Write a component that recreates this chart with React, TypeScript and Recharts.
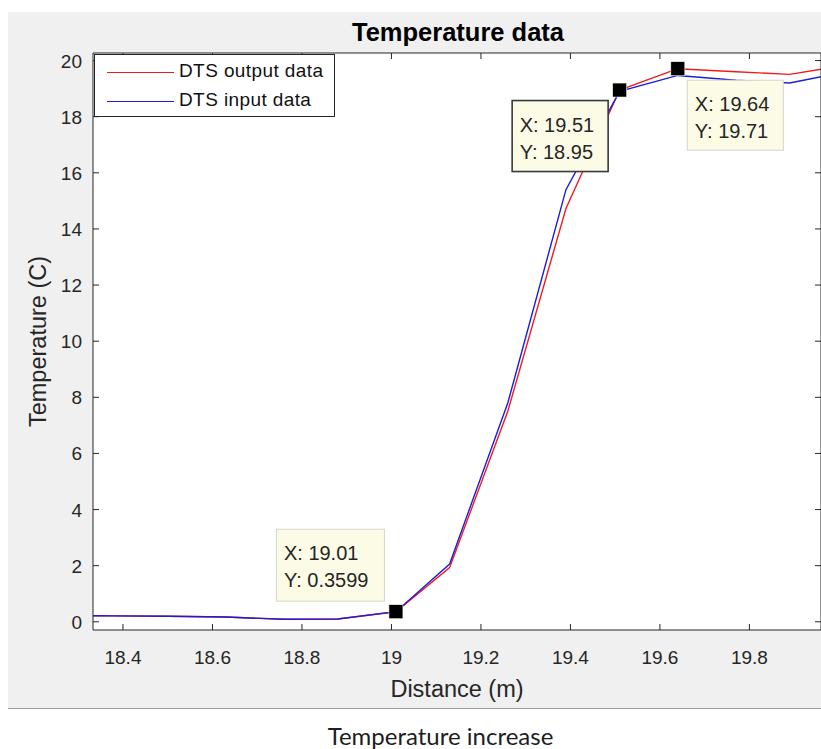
import React from 'react';
import { LineChart, Line, XAxis, YAxis, Legend, ReferenceDot } from 'recharts';

// distance along the fibre (m), sampled every ~0.127 m
const distance = [18.25, 18.38, 18.5, 18.63, 18.76, 18.88, 19.01, 19.13, 19.26, 19.39, 19.51, 19.64, 19.77, 19.89, 20.02];
const outputTemp = [0.22, 0.21, 0.2, 0.17, 0.09, 0.1, 0.3599, 1.93, 7.5, 14.73, 18.95, 19.71, 19.6, 19.51, 19.85];
const inputTemp = [0.22, 0.21, 0.2, 0.17, 0.09, 0.1, 0.36, 2.06, 7.8, 15.4, 18.9, 19.47, 19.3, 19.2, 19.62];

const seriesNames = ['DTS output data', 'DTS input data'];

const xTicks = [18.4, 18.6, 18.8, 19, 19.2, 19.4, 19.6, 19.8];
const yTicks = [0, 2, 4, 6, 8, 10, 12, 14, 16, 18, 20];

// data cursors
const tipX = [19.01, 19.51, 19.64];
const tipY = [0.3599, 18.95, 19.71];

const data = distance.map((x, i) => ({ x, out: outputTemp[i], inp: inputTemp[i] }));

const FONT = '"Liberation Sans", Arial, Helvetica, sans-serif';
const INK = '#262626';
const TICK = 6;

// where each cursor box sits relative to its marker
const tipBoxes = [
  { dx: -119.5, dy: -82.5, w: 108, h: 72, stroke: '#d6d6c8', sw: 1 },
  { dx: -107.5, dy: 10.5, w: 96, h: 71, stroke: '#3a3a3a', sw: 1.6 },
  { dx: 9.5, dy: 11.5, w: 96, h: 70, stroke: '#d6d6c8', sw: 1 },
];

function BottomTick(props: any) {
  const { x, y, payload } = props;
  const ay = y - 34;
  return (
    <g>
      <line x1={x} x2={x} y1={ay} y2={ay - TICK} stroke={INK} />
      <text x={x} y={y} textAnchor="middle" fill={INK} fontSize={19} fontFamily={FONT}>
        {payload.value}
      </text>
    </g>
  );
}

function TopTick(props: any) {
  const { x, y } = props;
  return <line x1={x} x2={x} y1={y} y2={y + TICK} stroke={INK} />;
}

function LeftTick(props: any) {
  const { x, y, payload } = props;
  const ax = x + 11;
  return (
    <g>
      <line x1={ax} x2={ax + TICK} y1={y} y2={y} stroke={INK} />
      <text x={x} y={y + 7} textAnchor="end" fill={INK} fontSize={19} fontFamily={FONT}>
        {payload.value}
      </text>
    </g>
  );
}

function RightTick(props: any) {
  const { x, y } = props;
  return <line x1={x} x2={x - TICK} y1={y} y2={y} stroke={INK} />;
}

function LegendBox(props: any) {
  const entries = [...(props.payload || [])].sort(
    (a: any, b: any) => seriesNames.indexOf(a.value) - seriesNames.indexOf(b.value)
  );
  return (
    <div
      style={{
        width: 241,
        height: 63,
        boxSizing: 'border-box',
        border: `1px solid ${INK}`,
        background: '#fff',
        position: 'relative',
        fontFamily: FONT,
      }}
    >
      {entries.map((e: any, i: number) => (
        <div key={e.value} style={{ position: 'absolute', left: 0, top: 17 + i * 28.5, width: '100%' }}>
          <div style={{ position: 'absolute', left: 12, top: 0, width: 67, height: 1.4, background: e.color }} />
          <div
            style={{
              position: 'absolute',
              left: 84,
              top: -12,
              fontSize: 19,
              lineHeight: '22px',
              color: '#111',
              whiteSpace: 'nowrap',
              letterSpacing: 0.4,
            }}
          >
            {e.value}
          </div>
        </div>
      ))}
    </div>
  );
}

function DataTip(props: any) {
  const { cx, cy, i } = props;
  const b = tipBoxes[i];
  const bx = cx + b.dx;
  const by = cy + b.dy;
  return (
    <g>
      <rect x={bx} y={by} width={b.w} height={b.h} fill="#fbfbe6" stroke={b.stroke} strokeWidth={b.sw} />
      <text x={bx + 7.5} y={by + 31} fill={INK} fontSize={20} fontFamily={FONT}>
        {`X: ${tipX[i]}`}
      </text>
      <text x={bx + 7.5} y={by + 58} fill={INK} fontSize={20} fontFamily={FONT}>
        {`Y: ${tipY[i]}`}
      </text>
      <rect x={cx - 7} y={cy - 7} width={14} height={14} fill="#000" stroke="#f4f4e0" strokeWidth={0.6} />
    </g>
  );
}

export default function App() {
  return (
    <div style={{ position: 'absolute', left: 0, top: 0, width: 821, height: 749, overflow: 'hidden', background: '#fff' }}>
      {/* figure background */}
      <div
        style={{
          position: 'absolute',
          left: 8,
          top: 12,
          width: 813,
          height: 696,
          background: '#f0f0f0',
          borderBottom: '1.5px solid #9c9c9c',
        }}
      />
      {/* axes background */}
      <div style={{ position: 'absolute', left: 93, top: 53, width: 728, height: 577, background: '#fff' }} />
      <div style={{ position: 'absolute', left: 0, top: 0 }}>
        <LineChart width={852} height={749} data={data} margin={{ top: 33, right: 1, bottom: 59, left: 33 }}>
          <XAxis
            dataKey="x"
            type="number"
            domain={[18.333, 19.96]}
            allowDataOverflow
            ticks={xTicks}
            interval={0}
            height={60}
            tickSize={0}
            tickMargin={34}
            tickLine={false}
            tick={<BottomTick />}
            axisLine={{ stroke: INK }}
            label={{
              content: (p: any) => (
                <text
                  x={p.viewBox.x + p.viewBox.width / 2}
                  y={p.viewBox.y + 67}
                  textAnchor="middle"
                  fill={INK}
                  fontSize={23.5}
                  fontFamily={FONT}
                >
                  Distance (m)
                </text>
              ),
            }}
          />
          <XAxis
            xAxisId="top"
            orientation="top"
            dataKey="x"
            type="number"
            domain={[18.333, 19.96]}
            allowDataOverflow
            ticks={xTicks}
            interval={0}
            height={20}
            tickSize={0}
            tickMargin={0}
            tickLine={false}
            tick={<TopTick />}
            axisLine={{ stroke: INK }}
            label={{
              content: (p: any) => (
                <text
                  x={p.viewBox.x + p.viewBox.width / 2 + 1}
                  y={41}
                  textAnchor="middle"
                  fill="#000"
                  fontSize={25.5}
                  fontWeight="bold"
                  fontFamily={FONT}
                >
                  Temperature data
                </text>
              ),
            }}
          />
          <YAxis
            type="number"
            domain={[-0.292, 20.27]}
            allowDataOverflow
            ticks={yTicks}
            interval={0}
            width={60}
            tickSize={0}
            tickMargin={11}
            tickLine={false}
            tick={<LeftTick />}
            axisLine={{ stroke: INK }}
            label={{
              content: (p: any) => {
                const cy = p.viewBox.y + p.viewBox.height / 2;
                return (
                  <text
                    x={46}
                    y={cy}
                    transform={`rotate(-90 46 ${cy})`}
                    textAnchor="middle"
                    fill={INK}
                    fontSize={23.5}
                    fontFamily={FONT}
                  >
                    Temperature (C)
                  </text>
                );
              },
            }}
          />
          <YAxis
            yAxisId="right"
            orientation="right"
            type="number"
            domain={[-0.292, 20.27]}
            allowDataOverflow
            ticks={yTicks}
            interval={0}
            width={30}
            tickSize={0}
            tickMargin={0}
            tickLine={false}
            tick={<RightTick />}
            axisLine={{ stroke: INK }}
          />
          <Legend
            layout="vertical"
            align="center"
            verticalAlign="middle"
            wrapperStyle={{ position: 'absolute', left: 94, top: 54, width: 241, height: 63 }}
            content={<LegendBox />}
          />
          <Line
            type="linear"
            dataKey="out"
            name={seriesNames[0]}
            stroke="#f01c1c"
            strokeWidth={1.4}
            dot={false}
            activeDot={false}
            isAnimationActive={false}
          />
          <Line
            type="linear"
            dataKey="inp"
            name={seriesNames[1]}
            stroke="#1c1cdc"
            strokeWidth={1.4}
            dot={false}
            activeDot={false}
            isAnimationActive={false}
          />
          {tipX.map((tx, i) => (
            <ReferenceDot
              key={tx}
              x={tx}
              y={tipY[i]}
              r={7}
              ifOverflow="visible"
              shape={(p: any) => <DataTip {...p} i={i} />}
            />
          ))}
        </LineChart>
      </div>
      <div
        style={{
          position: 'absolute',
          left: 0,
          top: 721,
          width: 881,
          textAlign: 'center',
          fontFamily: 'Lato, "Open Sans", sans-serif',
          fontSize: 24,
          lineHeight: 'normal',
          color: '#1e1e1e',
          whiteSpace: 'nowrap',
        }}
      >
        Temperature increase
      </div>
    </div>
  );
}
